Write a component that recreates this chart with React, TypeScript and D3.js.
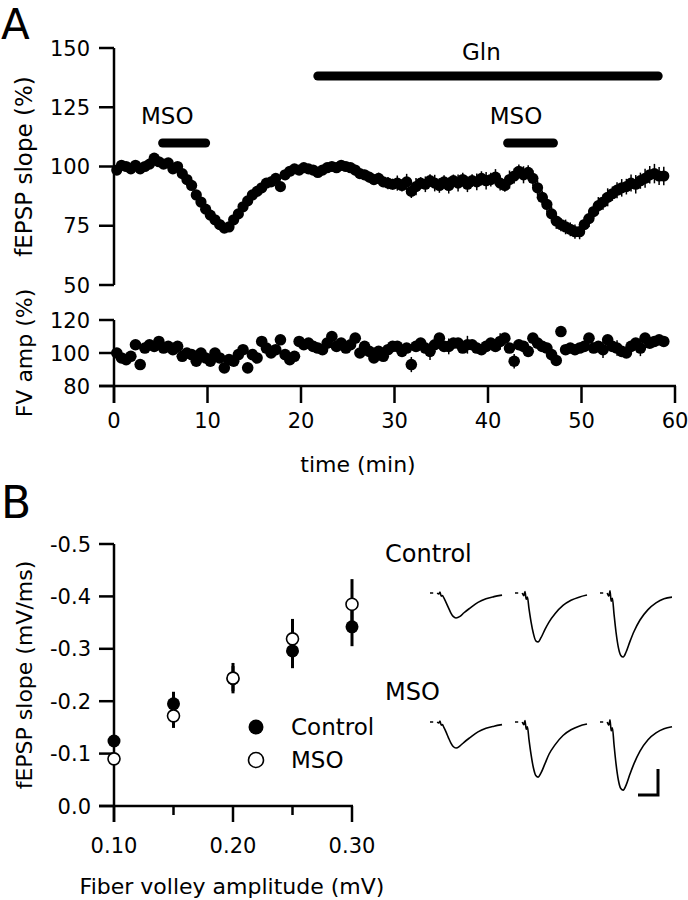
import React from "react";
import * as d3 from "d3";

const FONT = "'DejaVu Sans', 'Liberation Sans', Arial, sans-serif";

// ---------- Panel A data (sampled every 0.5 min) ----------
const sampleStart = 0.3;
const sampleStep = 0.5;

const fepspSlope = [
  98.5, 100.5, 100, 99, 100.5, 99, 100, 101, 103.5, 102,
  101, 101.5, 99, 100, 97, 94.5, 92, 88, 85, 82,
  79.5, 77.5, 75.5, 74, 74.5, 77.5, 80, 83, 85.5, 88,
  89.5, 91, 93, 93.5, 95, 91.5, 96.5, 98, 99, 98.5,
  99.5, 99, 98.5, 97.5, 98.5, 99.5, 100, 99.5, 100.5, 100,
  99.5, 98.5, 97, 96.5, 95.5, 94.5, 95, 93.5, 93, 92.5,
  93, 92, 93.5, 89.5, 91.5, 93, 92.5, 94, 93, 92,
  93.5, 92, 94, 93, 94.5, 92.5, 94, 93.5, 95, 94,
  94.5, 95.5, 93, 92, 94.5, 96, 98, 96.5, 97.5, 95,
  91, 87, 84, 80, 77, 75.5, 74.5, 73.5, 72.5, 72.5,
  75.5, 78, 81, 83.5, 85, 87, 88.5, 90, 91, 91.5,
  93, 92.5, 94, 95, 96.5, 97, 96, 96,
];
const fepspErr = [
  1.2, 1.4, 1.1, 1.3, 1.5, 1.2, 1.4, 1.3, 1.6, 1.2,
  1.3, 1.5, 1.4, 1.2, 1.6, 1.5, 1.7, 1.4, 1.6, 1.5,
  1.8, 1.6, 1.7, 1.9, 1.8, 1.6, 1.7, 1.5, 1.8, 1.6,
  1.7, 1.5, 1.8, 1.6, 1.9, 1.7, 1.6, 1.8, 1.5, 1.7,
  1.8, 1.6, 1.9, 1.7, 2.0, 1.8, 1.7, 1.9, 2.0, 1.8,
  2.0, 2.2, 1.9, 2.1, 2.3, 2.0, 2.4, 2.2, 2.6, 2.3,
  3.2, 2.6, 3.4, 2.8, 3.6, 2.5, 3.3, 2.7, 3.5, 3.1,
  2.8, 3.4, 2.6, 3.6, 2.9, 3.3, 2.7, 3.5, 3.0, 3.7,
  2.9, 3.4, 3.1, 2.7, 3.8, 3.2, 2.8, 3.6, 3.0, 3.3,
  3.2, 2.9, 3.4, 3.0, 3.3, 2.8, 3.1, 2.9, 3.0, 3.2,
  3.1, 3.5, 2.9, 3.6, 3.2, 3.8, 3.0, 3.4, 3.7, 3.3,
  3.6, 3.9, 3.4, 4.0, 3.7, 4.1, 3.8, 3.9,
];
const fvAmpPct = [
  100, 97, 96, 98, 105, 93, 103, 105, 104, 107,
  103, 104, 102, 104, 98, 100, 99, 95, 100, 97,
  95, 100, 97, 91, 96, 95, 99, 102, 91, 99,
  97, 107, 103, 100, 102, 108, 99, 96, 98, 107,
  105, 106, 104, 103, 102, 106, 110, 104, 106, 103,
  105, 109, 100, 104, 101, 97, 101, 98, 102, 104,
  104, 101, 103, 93, 104, 106, 103, 101, 105, 109,
  104, 104, 106, 106, 103, 105, 105, 103, 102, 104,
  106, 104, 107, 109, 103, 95, 105, 104, 101, 109,
  106, 104, 103, 99, 95.5, 113, 102, 103, 102, 103,
  104, 109, 103, 104, 102, 108, 104, 103, 101, 100,
  104, 106, 103, 109, 106, 107, 108, 107,
];
const fvErr = [
  1.8, 2.0, 1.6, 2.2, 1.9, 3.0, 2.1, 1.7, 2.3, 1.9,
  2.0, 1.8, 2.2, 1.9, 2.1, 1.7, 2.0, 2.3, 1.8, 2.1,
  1.9, 2.2, 1.8, 2.4, 2.0, 1.9, 2.1, 1.8, 2.6, 2.0,
  2.1, 1.9, 2.3, 2.0, 1.8, 2.2, 2.0, 2.1, 1.9, 2.4,
  2.2, 2.0, 2.5, 1.9, 2.3, 2.1, 2.4, 2.0, 2.2, 2.6,
  2.3, 2.1, 2.6, 2.0, 2.4, 2.2, 2.5, 2.1, 2.3, 2.7,
  2.4, 2.2, 2.8, 4.6, 2.3, 2.6, 2.4, 5.2, 2.5, 2.3,
  2.6, 4.8, 2.4, 2.7, 2.5, 5.4, 2.8, 2.6, 2.4, 2.9,
  2.7, 2.5, 5.0, 2.6, 2.8, 4.4, 2.6, 2.9, 2.5, 2.7,
  2.8, 2.6, 2.9, 2.7, 2.6, 2.4, 2.8, 2.5, 2.9, 2.6,
  2.7, 3.0, 2.6, 2.8, 5.1, 2.7, 2.9, 4.7, 2.6, 2.8,
  2.9, 2.7, 4.9, 3.0, 2.8, 3.1, 2.9, 2.7,
];
const sampleTimes = fepspSlope.map((_, i) => sampleStart + i * sampleStep);

const treatmentBars = [
  { label: "Gln", start: 21.8, end: 58.2, labelAt: 39.3, row: 0 },
  { label: "MSO", start: 5.2, end: 9.8, labelAt: 5.7, row: 1 },
  { label: "MSO", start: 42.1, end: 47.0, labelAt: 43.0, row: 1 },
];

const timeTicks = [0, 10, 20, 30, 40, 50, 60];
const fepspTicks = [50, 75, 100, 125, 150];
const fvTicks = [80, 100, 120];

// ---------- Panel B data ----------
const fiberVolley = [0.10, 0.15, 0.20, 0.25, 0.30];
const controlSlope = [-0.124, -0.195, -0.243, -0.296, -0.342];
const controlErr = [0.008, 0.023, 0.024, 0.033, 0.037];
const msoSlope = [-0.090, -0.172, -0.244, -0.319, -0.385];
const msoErr = [0.008, 0.023, 0.029, 0.038, 0.048];
const fvAxisTicks = [0.10, 0.15, 0.20, 0.25, 0.30];
const fvAxisLabels = ["0.10", "", "0.20", "", "0.30"];
const slopeTicks = [0, -0.1, -0.2, -0.3, -0.4, -0.5];
const slopeLabels = ["0.0", "-0.1", "-0.2", "-0.3", "-0.4", "-0.5"];

// ---------- example traces (ms, mV) ----------
const traceTimes = [1.8, 2.2, 2.5, 2.8, 3.1, 3.5, 4.0, 4.6, 5.2, 5.8, 6.5, 7.5, 8.5, 10, 12, 14, 16, 18];
const ctrlTrace1 = [0, -0.02, 0.02, -0.06, -0.05, -0.10, -0.18, -0.28, -0.38, -0.45, -0.48, -0.45, -0.38, -0.29, -0.18, -0.11, -0.07, -0.04];
const ctrlTrace2 = [0, -0.05, 0.03, -0.12, -0.08, -0.30, -0.55, -0.78, -0.92, -0.94, -0.86, -0.70, -0.56, -0.40, -0.24, -0.14, -0.08, -0.04];
const ctrlTrace3 = [0, -0.06, 0.04, -0.16, -0.10, -0.40, -0.75, -1.05, -1.20, -1.23, -1.14, -0.93, -0.74, -0.52, -0.32, -0.19, -0.11, -0.08];
const msoTrace1 = [0, -0.02, 0.02, -0.06, -0.05, -0.11, -0.19, -0.30, -0.40, -0.47, -0.50, -0.46, -0.39, -0.30, -0.19, -0.12, -0.08, -0.05];
const msoTrace2 = [0, -0.05, 0.03, -0.14, -0.09, -0.34, -0.62, -0.88, -1.03, -1.06, -0.98, -0.80, -0.62, -0.44, -0.26, -0.15, -0.08, -0.04];
const msoTrace3 = [0, -0.06, 0.04, -0.17, -0.11, -0.43, -0.80, -1.12, -1.28, -1.31, -1.22, -1.00, -0.80, -0.56, -0.34, -0.21, -0.13, -0.09];
const baselineDash = [0, 0.8];
const scaleBarMs = 5;
const scaleBarMv = 0.5;

export default function App() {
  const x = d3.scaleLinear().domain([0, 60]).range([114, 675]);
  const yE = d3.scaleLinear().domain([50, 150]).range([285, 48]);
  const yF = d3.scaleLinear().domain([80, 120]).range([386, 320]);

  const bx = d3.scaleLinear().domain([0.1, 0.3]).range([114, 352]);
  const by = d3.scaleLinear().domain([0, -0.5]).range([806, 544]);

  const tx = d3.scaleLinear().domain([0, 5]).range([0, 20]);
  const ty = d3.scaleLinear().domain([0, -0.5]).range([0, 26]);
  const traceLine = d3
    .line<number>()
    .x((_, i) => tx(traceTimes[i]))
    .y((d) => ty(d))
    .curve(d3.curveMonotoneX);

  const axisW = 2.5;
  const tickFont = 21;
  const labelFont = 22;
  const barRowY = [76, 143];
  const barLabelY = [52, 116];

  const traceRows = [
    { y: 593, traces: [ctrlTrace1, ctrlTrace2, ctrlTrace3] },
    { y: 722, traces: [msoTrace1, msoTrace2, msoTrace3] },
  ];
  const traceCols = [430, 515, 600];

  return (
    <svg
      width={688}
      height={900}
      style={{ position: "absolute", left: 0, top: 0, background: "#fff" }}
      fontFamily={FONT}
    >
      <rect width={688} height={900} fill="#fff" />
      {/* Panel labels */}
      <text x={1} y={39} fontSize={42}>A</text>
      <text x={1} y={518} fontSize={44}>B</text>

      {/* ===== Panel A: fEPSP ===== */}
      <line x1={114} x2={114} y1={yE(150)} y2={yE(50)} stroke="#000" strokeWidth={axisW} />
      {fepspTicks.map((t) => (
        <g key={"et" + t}>
          <line x1={99} x2={114} y1={yE(t)} y2={yE(t)} stroke="#000" strokeWidth={axisW} />
          <text x={90} y={yE(t)} dy="0.36em" textAnchor="end" fontSize={tickFont}>{t}</text>
        </g>
      ))}
      <text transform={`translate(24,${(yE(50) + yE(150)) / 2}) rotate(-90)`} textAnchor="middle" dy="0.36em" fontSize={23}>
        fEPSP slope (%)
      </text>

      {treatmentBars.map((b, i) => (
        <g key={"bar" + i}>
          <line x1={x(b.start)} x2={x(b.end)} y1={barRowY[b.row]} y2={barRowY[b.row]} stroke="#000" strokeWidth={9} strokeLinecap="round" />
          <text x={x(b.labelAt)} y={barLabelY[b.row]} dy="0.36em" textAnchor="middle" fontSize={23}>
            {b.label}
          </text>
        </g>
      ))}

      {sampleTimes.map((t, i) => (
        <line key={"ee" + i} x1={x(t)} x2={x(t)} y1={yE(fepspSlope[i] - fepspErr[i])} y2={yE(fepspSlope[i] + fepspErr[i])} stroke="#000" strokeWidth={1.5} />
      ))}
      {sampleTimes.map((t, i) => (
        <circle key={"ep" + i} cx={x(t)} cy={yE(fepspSlope[i])} r={5.6} fill="#000" />
      ))}

      {/* ===== Panel A: FV ===== */}
      <line x1={114} x2={114} y1={yF(120)} y2={403} stroke="#000" strokeWidth={axisW} />
      <line x1={99} x2={x(60) + 1} y1={yF(80)} y2={yF(80)} stroke="#000" strokeWidth={axisW} />
      {fvTicks.map((t) => (
        <g key={"ft" + t}>
          <line x1={99} x2={114} y1={yF(t)} y2={yF(t)} stroke="#000" strokeWidth={axisW} />
          <text x={90} y={yF(t)} dy="0.36em" textAnchor="end" fontSize={tickFont}>{t}</text>
        </g>
      ))}
      {timeTicks.map((t) => (
        <g key={"xt" + t}>
          <line x1={x(t)} x2={x(t)} y1={yF(80)} y2={403} stroke="#000" strokeWidth={axisW} />
          <text x={x(t)} y={428} textAnchor="middle" fontSize={tickFont}>{t}</text>
        </g>
      ))}
      <text transform={`translate(24,${(yF(80) + yF(120)) / 2}) rotate(-90)`} textAnchor="middle" dy="0.36em" fontSize={labelFont}>
        FV amp (%)
      </text>
      <text x={358} y={472} textAnchor="middle" fontSize={labelFont}>time (min)</text>

      {sampleTimes.map((t, i) => (
        <line key={"fe" + i} x1={x(t)} x2={x(t)} y1={yF(fvAmpPct[i] - fvErr[i])} y2={yF(fvAmpPct[i] + fvErr[i])} stroke="#000" strokeWidth={1.5} />
      ))}
      {sampleTimes.map((t, i) => (
        <circle key={"fp" + i} cx={x(t)} cy={yF(fvAmpPct[i])} r={5.8} fill="#000" />
      ))}

      {/* ===== Panel B: scatter ===== */}
      <line x1={114} x2={114} y1={by(-0.5)} y2={822} stroke="#000" strokeWidth={axisW} />
      <line x1={99} x2={bx(0.3) + 1} y1={by(0)} y2={by(0)} stroke="#000" strokeWidth={axisW} />
      {slopeTicks.map((t, i) => (
        <g key={"st" + i}>
          <line x1={99} x2={114} y1={by(t)} y2={by(t)} stroke="#000" strokeWidth={axisW} />
          <text x={91} y={by(t)} dy="0.36em" textAnchor="end" fontSize={tickFont}>{slopeLabels[i]}</text>
        </g>
      ))}
      {fvAxisTicks.map((t, i) => (
        <g key={"bt" + i}>
          <line x1={bx(t)} x2={bx(t)} y1={by(0)} y2={by(0) + (fvAxisLabels[i] ? 16 : 9)} stroke="#000" strokeWidth={axisW} />
          {fvAxisLabels[i] && (
            <text x={bx(t)} y={853} textAnchor="middle" fontSize={tickFont}>{fvAxisLabels[i]}</text>
          )}
        </g>
      ))}
      <text transform={`translate(24,${(by(0) + by(-0.5)) / 2}) rotate(-90)`} textAnchor="middle" dy="0.36em" fontSize={labelFont}>
        fEPSP slope (mV/ms)
      </text>
      <text x={232} y={894} textAnchor="middle" fontSize={labelFont}>Fiber volley amplitude (mV)</text>

      {fiberVolley.map((v, i) => (
        <g key={"eb" + i}>
          <line x1={bx(v)} x2={bx(v)} y1={by(controlSlope[i] - controlErr[i])} y2={by(controlSlope[i] + controlErr[i])} stroke="#000" strokeWidth={3} />
          <line x1={bx(v)} x2={bx(v)} y1={by(msoSlope[i] - msoErr[i])} y2={by(msoSlope[i] + msoErr[i])} stroke="#000" strokeWidth={3} />
        </g>
      ))}
      {fiberVolley.map((v, i) => (
        <circle key={"cc" + i} cx={bx(v)} cy={by(controlSlope[i])} r={6.5} fill="#000" />
      ))}
      {fiberVolley.map((v, i) => (
        <circle key={"mc" + i} cx={bx(v)} cy={by(msoSlope[i])} r={6} fill="#fff" stroke="#000" strokeWidth={1.6} />
      ))}

      {/* legend */}
      <circle cx={256} cy={727} r={7.5} fill="#000" />
      <text x={291} y={727} dy="0.36em" fontSize={23}>Control</text>
      <circle cx={256} cy={760} r={7.5} fill="#fff" stroke="#000" strokeWidth={1.6} />
      <text x={291} y={760} dy="0.36em" fontSize={23}>MSO</text>

      {/* ===== Traces ===== */}
      <text x={385} y={553} dy="0.36em" fontSize={24}>Control</text>
      <text x={385} y={691} dy="0.36em" fontSize={24}>MSO</text>
      {traceRows.map((row, ri) =>
        row.traces.map((tr, ci) => (
          <g key={`tr${ri}-${ci}`} transform={`translate(${traceCols[ci]},${row.y})`}>
            <line x1={tx(baselineDash[0])} x2={tx(baselineDash[1])} y1={0} y2={0} stroke="#000" strokeWidth={1.5} />
            <path d={traceLine(tr) || ""} fill="none" stroke="#000" strokeWidth={1.6} />
          </g>
        ))
      )}
      <g transform="translate(638,795)">
        <path
          d={`M${tx(0)},${ty(0)} L${tx(scaleBarMs)},${ty(0)} L${tx(scaleBarMs)},${-ty(-scaleBarMv)}`}
          fill="none"
          stroke="#000"
          strokeWidth={3}
        />
      </g>
    </svg>
  );
}
